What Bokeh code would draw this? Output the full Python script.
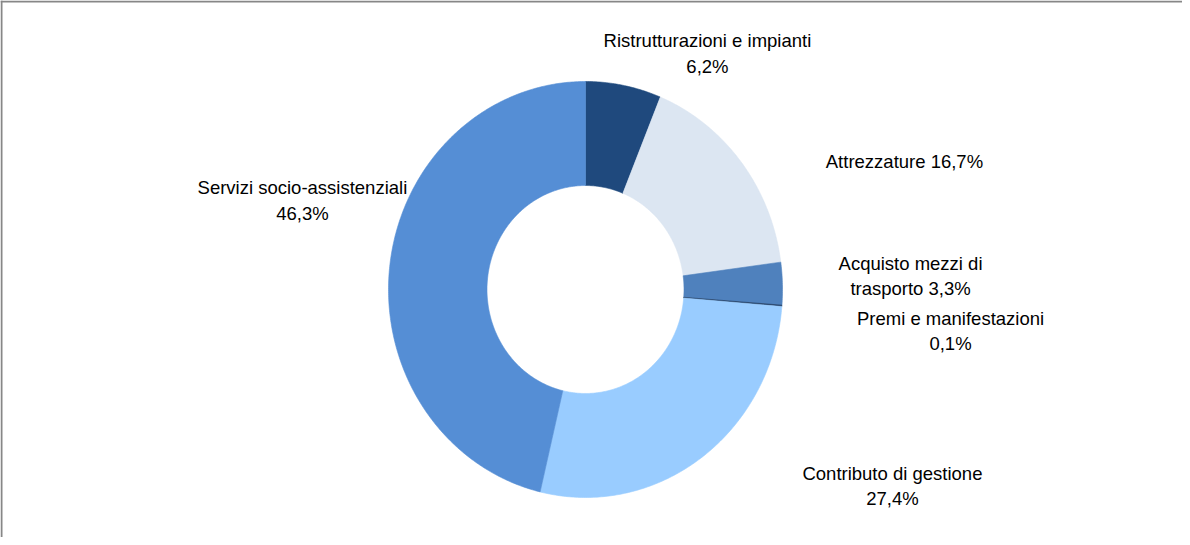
import numpy as np
from bokeh.plotting import figure
from bokeh.models import ColumnDataSource, Range1d
from bokeh.core.properties import value
from bokeh.embed import file_html
from bokeh.resources import INLINE

# ---- data ----
categories = ["Ristrutturazioni e impianti", "Attrezzature", "Acquisto mezzi di trasporto",
              "Premi e manifestazioni", "Contributo di gestione", "Servizi socio-assistenziali"]
shares = [6.2, 16.7, 3.3, 0.1, 27.4, 46.3]
label_texts = ["Ristrutturazioni e impianti\n6,2%", "Attrezzature 16,7%",
               "Acquisto mezzi di\ntrasporto 3,3%", "Premi e manifestazioni\n0,1%",
               "Contributo di gestione\n27,4%", "Servizi socio-assistenziali\n46,3%"]

# ---- styles / layout ----
colors = ["#1F497D", "#DCE6F2", "#4F81BD", "#1F3A60", "#99CCFF", "#558ED5"]
label_x = [0.619, 1.619, 1.650, 1.853, 1.558, -1.437]
label_y = [1.135, 0.615, 0.065, -0.200, -0.945, 0.428]

W, H = 1182, 537
cx_px, cy_px = 585, 289   # centre in canvas pixels
rx_px, ry_px = 197, 208   # px per unit
x0, x1 = -cx_px / rx_px, (W - cx_px) / rx_px
y1, y0 = cy_px / ry_px, -(H - cy_px) / ry_px

inner = 0.5
total = sum(shares)
cum = np.concatenate([[0], np.cumsum(shares)]) / total * 2 * np.pi
xs, ys = [], []
for a, b in zip(cum[:-1], cum[1:]):
    t = np.linspace(a, b, max(3, int((b - a) / 0.01)))
    ox, oy = np.sin(t), np.cos(t)
    ix, iy = inner * np.sin(t[::-1]), inner * np.cos(t[::-1])
    xs.append(list(np.concatenate([ox, ix])))
    ys.append(list(np.concatenate([oy, iy])))

src = ColumnDataSource(dict(xs=xs, ys=ys, color=colors, cat=categories))
lsrc = ColumnDataSource(dict(x=label_x, y=label_y, text=label_texts))

p = figure(width=W, height=H, output_backend="svg", toolbar_location=None,
           x_range=Range1d(x0, x1), y_range=Range1d(y0, y1),
           min_border=0, tools="")
p.axis.visible = False
p.grid.visible = False
p.outline_line_color = None
p.background_fill_color = "white"
p.border_fill_color = "white"

p.patches("xs", "ys", source=src, fill_color="color", line_color="color", line_width=0.6)

p.text("x", "y", text="text", source=lsrc, text_font=value("Liberation Sans"),
       text_font_size="18.5px", text_align="center", text_baseline="middle",
       text_color="#000000", text_line_height=1.2)

# frame lines (top and left)
dx = 1.0 / rx_px
dy = 1.0 / ry_px
p.segment(x0=[x0, x0 + dx], y0=[y1 - dy, y0], x1=[x1, x0 + dx], y1=[y1 - dy, y1],
          line_color="#878787", line_width=2)

open("out.html", "w").write(file_html(p, INLINE))
